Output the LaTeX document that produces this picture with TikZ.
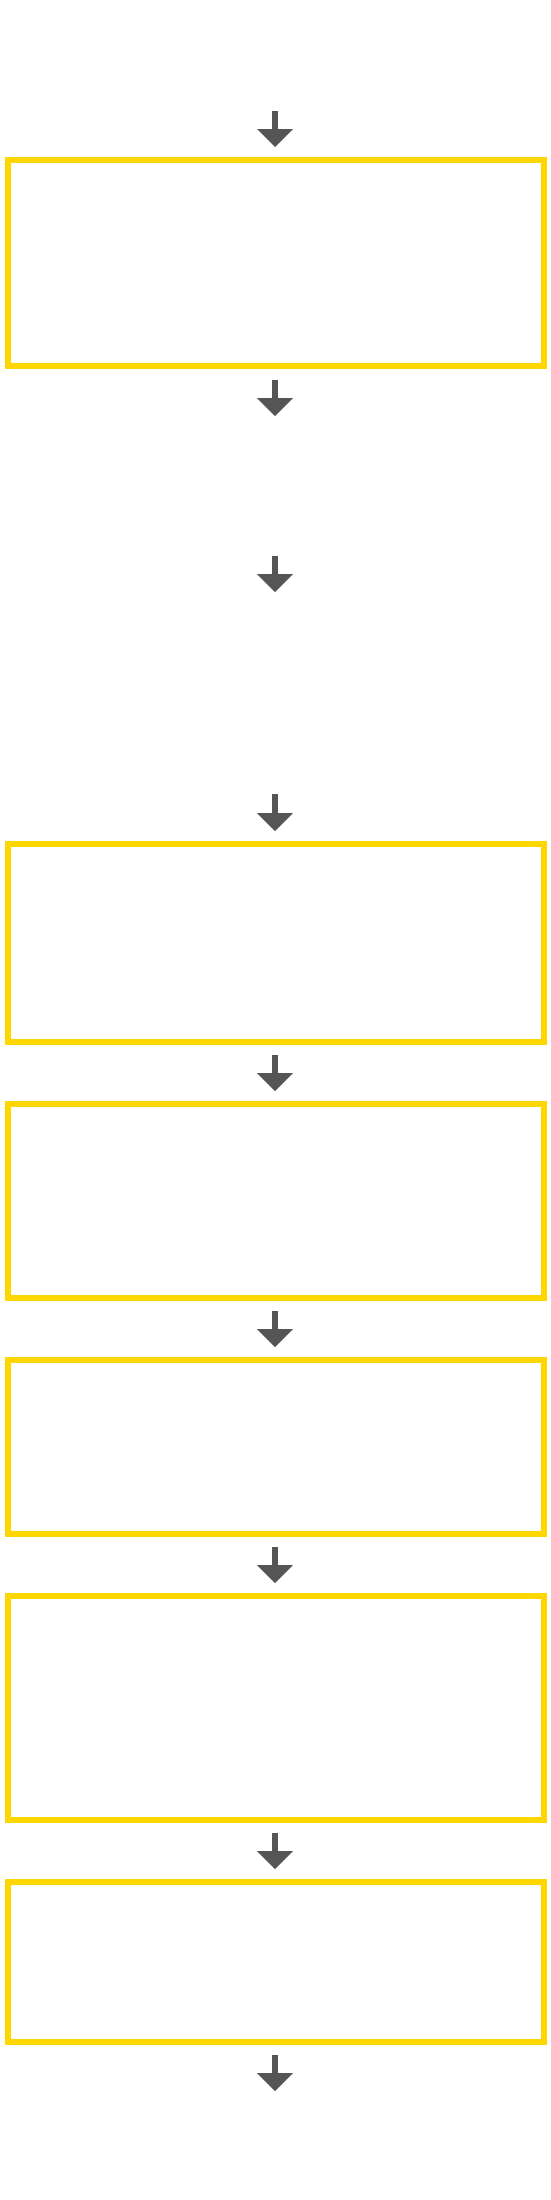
\documentclass[tikz,border=0pt]{standalone}
\usetikzlibrary{arrows.meta}
\definecolor{boxgold}{HTML}{FFD700}
\definecolor{arrowgrey}{HTML}{555555}
\begin{document}
\begin{tikzpicture}[x=1pt,y=-1pt,
  stepbox/.style={draw=boxgold,line width=6pt,rectangle,inner sep=0pt,minimum width=536pt},
  flow/.style={draw=arrowgrey,line width=6pt,-{Triangle[width=36pt,length=18pt,line width=0pt]}}]
\useasboundingbox (0,0) rectangle (550,2200);
\fill[white] (0,0) rectangle (550,2200);
% boxes (stroke centres: top to bottom)
\node[stepbox,minimum height=206pt] (b1) at (276,263) {};
\node[stepbox,minimum height=198pt] (b2) at (276,943) {};
\node[stepbox,minimum height=194pt] (b3) at (276,1201) {};
\node[stepbox,minimum height=174pt] (b4) at (276,1447) {};
\node[stepbox,minimum height=224pt] (b5) at (276,1708) {};
\node[stepbox,minimum height=160pt] (b6) at (276,1962) {};
% free ends
\coordinate (s1) at (275,111);
\coordinate (e2) at (275,416);
\coordinate (s3) at (275,556);
\coordinate (e3) at (275,592);
\coordinate (s4) at (275,794);
\coordinate (e9) at (275,2091);
% connectors
\draw[flow,shorten >=10pt] (s1) -- (b1.north -| s1);
\draw[flow,shorten <=11pt] (b1.south -| s1) -- (e2);
\draw[flow] (s3) -- (e3);
\draw[flow,shorten >=10pt] (s4) -- (b2.north -| s4);
\draw[flow,shorten <=10pt,shorten >=10pt] (b2.south -| s1) -- (b3.north -| s1);
\draw[flow,shorten <=10pt,shorten >=10pt] (b3.south -| s1) -- (b4.north -| s1);
\draw[flow,shorten <=10pt,shorten >=10pt] (b4.south -| s1) -- (b5.north -| s1);
\draw[flow,shorten <=10pt,shorten >=10pt] (b5.south -| s1) -- (b6.north -| s1);
\draw[flow,shorten <=10pt] (b6.south -| s1) -- (e9);
\end{tikzpicture}
\end{document}
